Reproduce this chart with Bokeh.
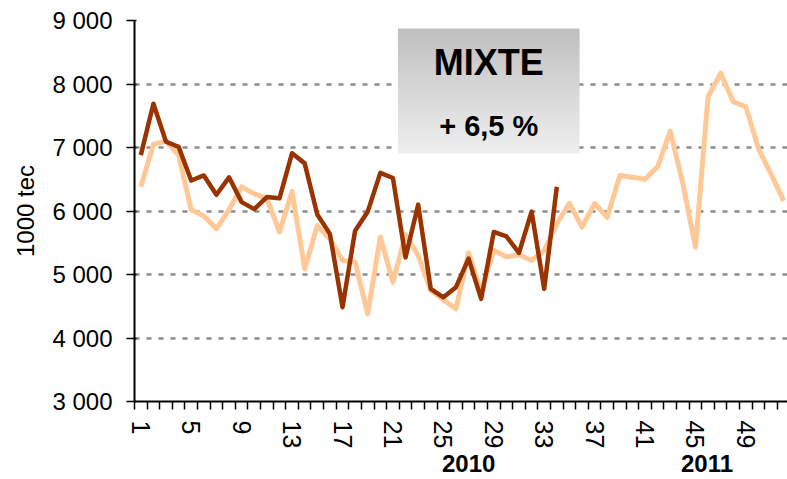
import numpy as np
from bokeh.plotting import figure
from bokeh.layouts import column
from bokeh.models import (Range1d, FixedTicker, Legend, LegendItem,
                          BoxAnnotation, Label)
from bokeh.embed import file_html
from bokeh.resources import INLINE

# ---------------- data ----------------
weeks_2010 = list(range(1, 53))
weeks_2011 = list(range(1, 35))
values_2010 = [6380, 7050, 7100, 6880, 6020, 5920, 5720, 6020, 6380, 6270,
               6200, 5670, 6310, 5090, 5770, 5560, 5220, 5195, 4380, 5590,
               4880, 5630, 5300, 4750, 4600, 4460, 5340, 4720, 5380, 5280,
               5310, 5220, 5380, 5800, 6120, 5745, 6120, 5900, 6560, 6530,
               6500, 6700, 7260, 6430, 5430, 7800, 8170, 7720, 7640, 6980,
               6580, 6160]
values_2011 = [6880, 7690, 7090, 7010, 6480, 6560, 6255, 6530, 6140, 6030,
               6220, 6200, 6910, 6750, 5945, 5640, 4485, 5690, 5990, 6600,
               6520, 5270, 6100, 4775, 4640, 4800, 5250, 4615, 5670, 5600,
               5340, 5990, 4775, 6380]
x_tick_weeks = [1, 5, 9, 13, 17, 21, 25, 29, 33, 37, 41, 45, 49]
y_ticks = [3000, 4000, 5000, 6000, 7000, 8000, 9000]
y_tick_labels = ["3 000", "4 000", "5 000", "6 000", "7 000", "8 000", "9 000"]
series_names = ["2010", "2011"]
y_title = "1000 tec"
box_title = "MIXTE"
box_change = "+ 6,5 %"

FONT = "Liberation Sans"
C2010 = "#FFC896"
C2011 = "#993300"

p = figure(output_backend="svg", toolbar_location=None,
           frame_width=653, frame_height=381,
           x_range=Range1d(0.5, 52.3), y_range=Range1d(3000, 9000),
           min_border_left=134, min_border_top=20, min_border_right=0,
           min_border_bottom=0)
p.outline_line_color = None
p.background_fill_color = "white"
p.border_fill_color = "white"

# grid
p.xgrid.visible = False
p.ygrid.ticker = FixedTicker(ticks=y_ticks)
p.ygrid.grid_line_color = "#8c8c8c"
p.ygrid.grid_line_width = 2.5
p.ygrid.grid_line_dash = "5 7"

# y axis
ya = p.yaxis[0]
ya.ticker = FixedTicker(ticks=y_ticks)
ya.major_label_overrides = {t: l for t, l in zip(y_ticks, y_tick_labels)}
ya.major_tick_out = 8
ya.major_tick_in = 2
ya.minor_tick_out = 0
ya.minor_tick_in = 0
ya.axis_line_width = 2
ya.axis_line_color = "black"
ya.major_tick_line_width = 1.5
ya.major_tick_line_color = "black"
ya.major_label_text_font = FONT
ya.major_label_text_font_size = "24px"
ya.major_label_text_color = "black"
ya.major_label_standoff = 14
ya.axis_label = y_title
ya.axis_label_text_font = FONT
ya.axis_label_text_font_size = "24px"
ya.axis_label_text_font_style = "normal"
ya.axis_label_text_color = "black"
ya.axis_label_standoff = 10

# x axis
xa = p.xaxis[0]
xa.ticker = FixedTicker(ticks=x_tick_weeks,
                        minor_ticks=[w - 0.5 for w in weeks_2010] + [52.5])
xa.major_tick_out = 0
xa.major_tick_in = 0
xa.minor_tick_out = 8
xa.minor_tick_in = 0
xa.minor_tick_line_color = "black"
xa.minor_tick_line_width = 1.5
xa.axis_line_width = 2
xa.axis_line_color = "black"
xa.major_label_orientation = "vertical"
xa.major_label_standoff = 11
xa.major_label_text_font = FONT
xa.major_label_text_font_size = "25px"
xa.major_label_text_color = "black"

# lines
r1 = p.line(weeks_2010, values_2010, line_color=C2010, line_width=5,
            line_join="round")
r2 = p.line(weeks_2011, values_2011, line_color=C2011, line_width=4.5,
            line_join="round")

# gradient title box
n = 40
box_left, box_right = 21.4, 35.8
box_top, box_bottom = 8874, 6921
edges = np.linspace(box_top, box_bottom, n + 1)
grays = np.linspace(192, 238, n)
step = (box_top - box_bottom) / n
for i in range(n):
    g = int(round(grays[i]))
    p.add_layout(BoxAnnotation(left=box_left, right=box_right,
                               top=edges[i], bottom=edges[i + 1] - step * 0.3,
                               fill_color=(g, g, g), fill_alpha=1.0,
                               line_color=None))
p.add_layout(Label(x=(box_left + box_right) / 2, y=8331, text=box_title,
                   text_font=FONT, text_font_size="36px", text_font_style="bold",
                   text_align="center", text_baseline="middle", text_color="black"))
p.add_layout(Label(x=(box_left + box_right) / 2, y=7331, text=box_change,
                   text_font=FONT, text_font_size="29px", text_font_style="bold",
                   text_align="center", text_baseline="middle", text_color="black"))

# legend strip (separate small figure below the chart)
pl = figure(width=787, height=28, output_backend="svg", toolbar_location=None,
            x_range=Range1d(0, 1), y_range=Range1d(0, 1),
            min_border_left=0, min_border_right=0, min_border_top=0,
            min_border_bottom=0)
pl.axis.visible = False
pl.grid.visible = False
pl.outline_line_color = None
pl.background_fill_color = "white"
pl.border_fill_color = "white"
l1 = pl.line(x=[], y=[], line_color=C2010, line_width=5)
l2 = pl.line(x=[], y=[], line_color=C2011, line_width=4.5)
legend = Legend(items=[LegendItem(label=series_names[0], renderers=[l1]),
                       LegendItem(label=series_names[1], renderers=[l2])],
                orientation="horizontal", location=(242, 1),
                label_text_font=FONT, label_text_font_size="24px",
                label_text_font_style="bold", label_text_color="black",
                label_height=24, label_width=135,
                glyph_width=58, glyph_height=24, label_standoff=8,
                spacing=38, padding=0, margin=0,
                border_line_color=None, background_fill_alpha=0)
pl.add_layout(legend, "center")

layout = column(p, pl, spacing=0)
open("out.html", "w").write(file_html(layout, INLINE))
